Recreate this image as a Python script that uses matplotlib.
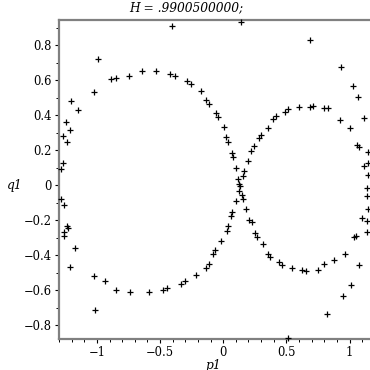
import matplotlib
matplotlib.use("Agg")
import matplotlib.pyplot as plt
from matplotlib.ticker import FixedLocator, MultipleLocator, FuncFormatter

plt.rcParams['font.family'] = ['DejaVu Serif']

title = "H = .9900500000;"
xlabel = "p1"
ylabel = "q1"

p1 = [-0.99, -0.89, -0.845, -0.744, -0.641, -0.53, -1.021, -1.203, -1.148, -1.243,
      -1.211, -1.267, -1.235, -1.267, -1.285,
      -0.404, 0.143, -0.42, -0.38, -0.285, -0.253, -0.174, -0.135, -0.111, -0.055,
      -0.04, 0.008, 0.024, 0.04, 0.071, 0.079, 0.103, 0.119, 0.166, 0.158,
      0.198, 0.222, 0.24, 0.285, 0.301,
      0.689, 0.934, 1.029, 1.069, 0.356, 0.396, 0.42, 0.491, 0.515, 0.602,
      0.689, 0.713, 0.797, 0.826, 0.926, 1.006, 1.117, 1.061, 1.077, 1.148,
      1.148, 1.117, 1.148, 1.141,
      -1.285, -1.264, -1.235, -1.227, -1.264, -1.264, -1.172, -1.211, -1.021, -0.934,
      -0.847, -0.741, -0.591, -1.013, -0.475, -0.443, -0.333, -0.301,
      -0.214, -0.135, -0.111, -0.079, -0.063, -0.016, 0.032, 0.04, 0.063, 0.071,
      0.103, 0.127, 0.135, 0.127, 0.15, 0.158, 0.182, 0.206, 0.23, 0.253,
      0.269, 0.317,
      0.356, 0.372, 0.443, 0.467, 0.546, 0.625, 0.657, 0.747, 0.8, 0.879,
      0.966, 1.077, 1.037, 1.053, 1.101, 1.14, 1.14, 1.148, 1.14, 1.013,
      0.95, 0.823, 0.515]
q1 = [0.72, 0.604, 0.61, 0.621, 0.65, 0.65, 0.53, 0.478, 0.427, 0.358,
      0.313, 0.278, 0.244, 0.126, 0.09,
      0.91, 0.93, 0.632, 0.621, 0.593, 0.575, 0.535, 0.484, 0.461, 0.41,
      0.387, 0.33, 0.273, 0.244, 0.185, 0.158, 0.095, 0.036, 0.08, 0.053,
      0.135, 0.193, 0.221, 0.267, 0.284,
      0.827, 0.673, 0.564, 0.503, 0.324, 0.375, 0.393, 0.415, 0.433, 0.444,
      0.444, 0.45, 0.438, 0.438, 0.37, 0.324, 0.381, 0.227, 0.215, 0.187,
      0.124, 0.107, 0.055, -0.017,
      -0.082, -0.116, -0.236, -0.248, -0.27, -0.29, -0.362, -0.47, -0.522, -0.55,
      -0.602, -0.613, -0.613, -0.716, -0.602, -0.59, -0.567, -0.55,
      -0.514, -0.476, -0.453, -0.396, -0.373, -0.322, -0.265, -0.236, -0.179, -0.156,
      -0.093, 0.004, -0.007, -0.036, -0.059, -0.082, -0.139, -0.202, -0.213, -0.276,
      -0.299, -0.339,
      -0.396, -0.41, -0.442, -0.459, -0.476, -0.487, -0.493, -0.487, -0.453, -0.43,
      -0.396, -0.459, -0.299, -0.293, -0.19, -0.207, -0.27, -0.139, -0.065, -0.573,
      -0.636, -0.739, -0.876]

xticks = [-1, -0.5, 0, 0.5, 1]
yticks = [-0.8, -0.6, -0.4, -0.2, 0, 0.2, 0.4, 0.6, 0.8]

def fmt(v, pos=None):
    if abs(v) < 1e-9:
        return "0"
    s = ("%g" % abs(v))
    return ("\u2212" if v < 0 else "") + s

fig = plt.figure(figsize=(3.7, 3.7), dpi=100)
ax = fig.add_axes([59/370, 1 - 339/370, (370 - 59)/370, (339 - 20)/370])

ax.plot(p1, q1, linestyle='none', marker='+', color='black',
        markersize=5, markeredgewidth=0.9, clip_on=False, zorder=5)

ax.set_xlim(-1.30, 1.162)
ax.set_ylim(-0.88, 0.943)

ax.xaxis.set_major_locator(FixedLocator(xticks))
ax.yaxis.set_major_locator(FixedLocator(yticks))
ax.xaxis.set_minor_locator(MultipleLocator(0.1))
ax.yaxis.set_minor_locator(MultipleLocator(0.1))
ax.xaxis.set_major_formatter(FuncFormatter(fmt))
ax.yaxis.set_major_formatter(FuncFormatter(fmt))

ax.tick_params(axis='both', which='major', direction='out', length=3, width=0.8,
               labelsize=8.3, color='black', pad=2)
ax.tick_params(axis='both', which='minor', direction='out', length=2, width=0.7,
               color='black')

for s in ['left', 'bottom', 'top']:
    ax.spines[s].set_color('#808080')
    ax.spines[s].set_linewidth(1.6)
ax.spines['right'].set_visible(False)

ax.set_xlabel(xlabel, fontstyle='italic', fontsize=8.8)
ax.xaxis.set_label_coords((213 - 59)/311, -(365 - 339)/319)
ax.xaxis.label.set_va('center')
ax.set_ylabel(ylabel, fontstyle='italic', fontsize=8.8, rotation=0)
ax.yaxis.set_label_coords((15 - 59)/311, (339 - 185)/319)
ax.yaxis.label.set_va('center')
ax.yaxis.label.set_ha('center')

fig.text(186/370, 1 - 8/370, title, fontstyle='italic', fontsize=8.8,
         ha='center', va='center')

fig.savefig("out.png", dpi=100)
